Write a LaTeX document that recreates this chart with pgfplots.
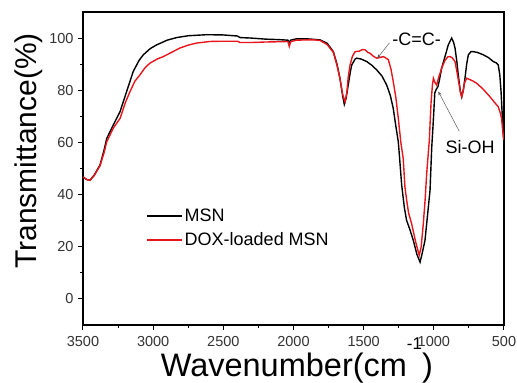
\documentclass[border=0pt]{standalone}
\usepackage{fontspec}
\setmainfont{Liberation Sans}
\usepackage{pgfplots}
\pgfplotsset{compat=1.18}
\usetikzlibrary{arrows.meta}
\definecolor{dred}{HTML}{E8161C}
\begin{document}
\begin{tikzpicture}
\begin{axis}[
  scale only axis, width=421pt, height=313pt,
  x dir=reverse, xmin=500, xmax=3500, ymin=-10, ymax=110,
  xtick={500,1000,...,3500}, ytick={0,20,...,100},
  minor x tick num=1, minor y tick num=1,
  tick align=outside, xtick pos=left, ytick pos=left,
  major tick length=5pt, minor tick length=3pt,
  tick style={line width=1pt, black},
  axis line style={line width=1.1pt},
  /pgf/number format/assume math mode=true,
  /pgf/number format/1000 sep={},
  scaled x ticks=false,
  ticklabel style={font=\fontsize{14.5}{14.5}\selectfont, text=black!80},
  xticklabel style={yshift=-3pt},
  yticklabel style={xshift=-1pt},
  xlabel={Wavenumber(cm\raisebox{27pt}{\fontsize{17}{17}\selectfont -1})},
  xlabel style={font=\fontsize{32.5}{32.5}\selectfont, at={(axis description cs:0.508,-0.165)}, anchor=base, inner sep=0pt},
  ylabel={Transmittance(\%)},
  ylabel style={font=\fontsize{30}{30}\selectfont, at={(axis description cs:-0.095,0.556)}, anchor=south, rotate=0, inner sep=0pt},
  legend style={draw=none, fill=none, at={(axis description cs:0.149,0.377)}, anchor=north west,
    font=\fontsize{18}{18}\selectfont, row sep=5.5pt, inner sep=0pt},
  legend cell align=left,
  legend image code/.code={\draw[#1, line width=1.8pt] (0pt,0pt) -- (35pt,0pt);},
]
\addplot[black, line width=1.4pt] coordinates {
(3500,46.8) (3475,45.8) (3450,45.5) (3420,47.5) (3379,51.3) (3350,57) (3331,61.5)
(3284,66.7) (3236,71.8) (3189,79.5) (3142,87.2) (3100,91.5) (3070,93.6) (3020,96)
(2975,97.4) (2900,99.2) (2832,100.2) (2750,100.9) (2618,101.3) (2500,101.2) (2400,100.8)
(2381,100.2) (2300,100.0) (2200,99.6) (2100,99.4) (2040,99.2) (2030,98.4) (2020,99.2)
(1980,99.7) (1900,99.7) (1850,99.5) (1811,99.3) (1760,98) (1716,94.8) (1690,90)
(1669,84.6) (1650,78) (1638,74.6) (1625,77) (1610,82) (1595,87) (1585,89.7) (1560,92)
(1550,92.3) (1520,92) (1478,91) (1440,89.5) (1407,87.8) (1370,85.5) (1336,82) (1310,78)
(1289,73) (1270,66) (1253,60.2) (1241,52) (1229,43.6) (1210,35) (1194,30.1) (1170,26.5)
(1146,22.4) (1120,17) (1098,14.1) (1085,17) (1063,22.4) (1045,32) (1027,41.7) (1015,58)
(1005,67) (993,79) (983,80.3) (970,81.5) (960,84) (944,88.5) (920,93) (897,97.4)
(873,100) (860,98.5) (849,96.2) (836,91) (826,85.9) (812,80) (801,77.5) (790,80)
(778,84.6) (766,90) (754,93.6) (735,94.8) (719,94.8) (690,94.5) (648,93.6) (610,92.5)
(576,91) (555,90.5) (541,89.7) (530,86) (521,79.5) (512,70) (505,62.8) (500,60)
};
\addlegendentry{MSN}
\addplot[dred, line width=1.4pt] coordinates {
(3500,46.8) (3475,45.8) (3450,45.5) (3420,47.3) (3379,51) (3350,56) (3331,60.2)
(3284,65.5) (3236,69.2) (3200,75) (3165,79.5) (3130,83.5) (3094,85.9) (3060,88.5)
(3023,90.4) (2970,92) (2928,92.9) (2870,94.5) (2809,96.2) (2750,97.3) (2690,98.1)
(2595,98.7) (2500,98.8) (2400,98.8) (2381,98.3) (2300,98.3) (2200,98.5) (2100,98.6)
(2040,98.7) (2030,96.8) (2020,98.6) (1980,99.2) (1900,99.3) (1850,99.3) (1811,99.1)
(1760,97.5) (1716,94.5) (1690,89.5) (1669,84.5) (1650,78.5) (1633,75.6) (1620,79)
(1610,85) (1597,89.7) (1580,93) (1561,94.8) (1530,95) (1510,95.6) (1490,95.5)
(1470,94.5) (1455,94.2) (1430,93) (1407,92.3) (1380,92.6) (1360,92.9) (1340,92.3)
(1324,91.7) (1305,88) (1289,83.3) (1270,77) (1253,69.2) (1235,60) (1218,53.8)
(1206,43) (1194,38) (1180,33) (1158,28.8) (1130,22) (1104,16.7) (1090,20) (1075,28.8)
(1062,38) (1051,48) (1032,60.9) (1020,75) (1010,82) (1003,84.6) (992,83) (980,82)
(965,85) (944,88.5) (920,91.5) (900,92.8) (885,92.9) (870,92.5) (849,91) (835,87)
(819,82) (810,79) (801,77.5) (790,80) (780,83) (766,84.6) (740,84) (720,83.5)
(695,82.7) (650,80.5) (600,77.5) (570,75.5) (541,73.7) (525,71) (517,69.2) (510,65)
(505,62.8) (500,61)
};
\addlegendentry{DOX-loaded MSN}
\node[font=\fontsize{18}{18}\selectfont] at (axis cs:1122,99.6) {-C=C-};
\draw[-{Stealth[length=4pt,width=3pt]}, gray!70!black, line width=0.5pt] (axis cs:1317,98.1) -- (axis cs:1403,92.3);
\node[font=\fontsize{18}{18}\selectfont] at (axis cs:742,58.3) {Si-OH};
\draw[-{Stealth[length=4pt,width=3pt]}, gray!70!black, line width=0.5pt] (axis cs:819,64.3) -- (axis cs:968,79.5);
\end{axis}
\pgfresetboundingbox
\path (current axis.south west) ++(-83pt,-58pt) rectangle ++(517pt,383pt);
\end{tikzpicture}
\end{document}
